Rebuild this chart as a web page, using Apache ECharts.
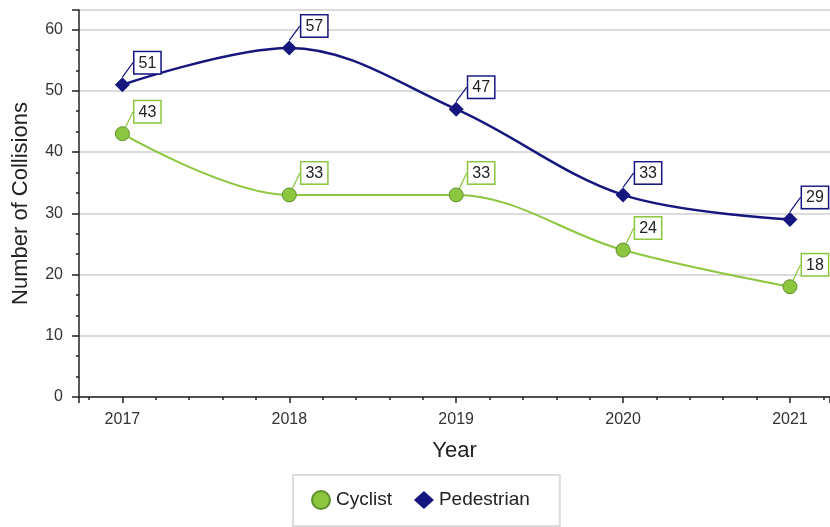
<!DOCTYPE html>
<html>
<head>
<meta charset="utf-8">
<script src="https://cdn.jsdelivr.net/npm/echarts@6/dist/echarts.min.js"></script>
<style>
  html, body { margin: 0; padding: 0; background: #fff; }
  #main { width: 830px; height: 527px; }
</style>
</head>
<body>
<div id="main"></div>
<script>
var years = [2017, 2018, 2019, 2020, 2021];
var cyclist = [43, 33, 33, 24, 18];
var pedestrian = [51, 57, 47, 33, 29];

var green = '#8cc63f';
var navy = '#16167f';

function pairs(vals) {
  return years.map(function (y, i) { return [y, vals[i]]; });
}

function boxLabel(color) {
  return {
    show: true,
    position: 'top',
    distance: 2,
    color: '#222',
    fontSize: 16,
    fontFamily: 'Liberation Sans, Arial, sans-serif',
    backgroundColor: '#fff',
    borderColor: color,
    borderWidth: 1.5,
    padding: [3, 4, 2, 4]
  };
}

var myChart = echarts.init(document.getElementById('main'));
myChart.setOption({
  animation: false,
  textStyle: { fontFamily: 'Liberation Sans, Arial, sans-serif' },
  grid: { left: 79, right: 0, top: 10, bottom: 130 },
  xAxis: {
    type: 'value',
    min: 2016.74,
    max: 2021.24,
    minInterval: 1,
    maxInterval: 1,
    name: 'Year',
    nameLocation: 'middle',
    nameGap: 43,
    nameTextStyle: { fontSize: 22, color: '#222' },
    axisLine: { show: true, lineStyle: { color: '#222', width: 1.5 } },
    axisTick: { show: true, length: 6, lineStyle: { color: '#222', width: 1.5 } },
    minorTick: { show: true, splitNumber: 5, length: 3, lineStyle: { color: '#222', width: 1.5 } },
    axisLabel: {
      fontSize: 16, color: '#333', margin: 15,
      showMinLabel: false, showMaxLabel: false,
      formatter: function (v) { return Number.isInteger(v) ? String(v) : ''; }
    },
    splitLine: { show: false }
  },
  yAxis: {
    type: 'value',
    min: 0,
    max: 63.2,
    interval: 10,
    name: 'Number of Collisions',
    nameLocation: 'middle',
    nameGap: 47,
    nameTextStyle: { fontSize: 22, color: '#222' },
    axisLine: { show: true, lineStyle: { color: '#222', width: 1.5 } },
    axisTick: { show: true, length: 7, lineStyle: { color: '#222', width: 1.5 } },
    minorTick: { show: true, splitNumber: 3, length: 3, lineStyle: { color: '#222', width: 1.5 } },
    axisLabel: { fontSize: 16, color: '#333', margin: 16, showMaxLabel: false },
    splitLine: { show: true, lineStyle: { color: '#cfcfcf', width: 1.5 } }
  },
  legend: {
    left: 293,
    top: 475,
    padding: [15, 30, 16, 18],
    borderColor: '#dcdcdc',
    borderWidth: 2,
    itemWidth: 20,
    itemHeight: 18,
    itemGap: 22,
    textStyle: { fontSize: 19, color: '#222' },
    data: [
      { name: 'Cyclist', icon: 'circle' },
      { name: 'Pedestrian', icon: 'diamond' }
    ]
  },
  series: [
    {
      name: 'Cyclist',
      type: 'line',
      smooth: 0.35,
      data: pairs(cyclist),
      symbol: 'circle',
      symbolSize: 14,
      lineStyle: { color: green, width: 2 },
      itemStyle: { color: green, borderColor: '#5f8f2a', borderWidth: 1 },
      label: boxLabel(green),
      labelLayout: { dx: 25, dy: -2 },
      labelLine: { show: true, lineStyle: { color: green, width: 1.2 } }
    },
    {
      name: 'Pedestrian',
      type: 'line',
      smooth: 0.35,
      data: pairs(pedestrian),
      symbol: 'diamond',
      symbolSize: 15,
      lineStyle: { color: navy, width: 2.5 },
      itemStyle: { color: navy },
      label: boxLabel(navy),
      labelLayout: { dx: 25, dy: -2 },
      labelLine: { show: true, lineStyle: { color: navy, width: 1.2 } }
    }
  ]
});
</script>
</body>
</html>
